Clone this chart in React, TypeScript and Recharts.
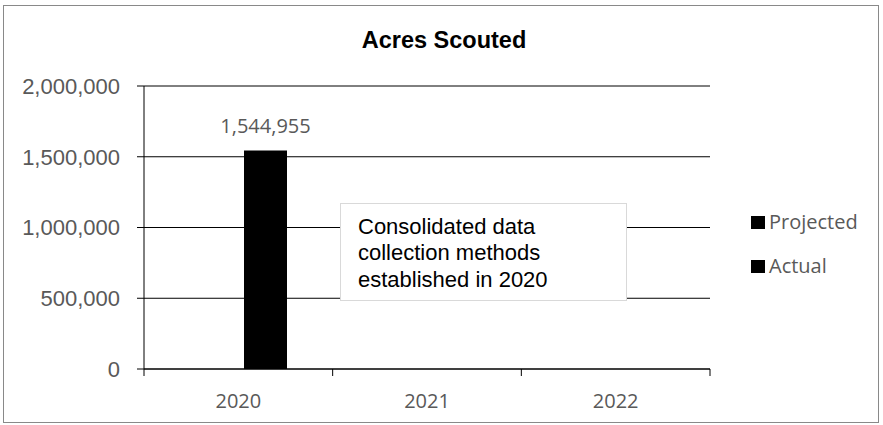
import React from 'react';
import { BarChart, Bar, XAxis, YAxis, CartesianGrid, Legend, LabelList } from 'recharts';

const years = ['2020', '2021', '2022'];
const projected: (number | null)[] = [null, null, null];
const actual: (number | null)[] = [1544955, null, null];
const yTicks = [0, 500000, 1000000, 1500000, 2000000];
const seriesNames = ['Projected', 'Actual'];
const chartTitle = 'Acres Scouted';
const noteLines = ['Consolidated data', 'collection methods', 'established in 2020'];

const data = years.map((y, i) => ({ year: y, projected: projected[i], actual: actual[i] }));

const fmt = (v: any) => (v === null || v === undefined ? '' : Number(v).toLocaleString('en-US'));

const calibriLike = '"Open Sans", "Noto Sans", sans-serif';
const arialLike = '"Liberation Sans", Arial, sans-serif';

const XTick = (props: any) => {
  const { x, y, payload, index, visibleTicksCount } = props;
  const half = payload && typeof payload.offset === 'number' ? payload.offset : 0;
  const last = visibleTicksCount ? index === visibleTicksCount - 1 : index === years.length - 1;
  return (
    <g>
      <line x1={x - half} x2={x - half} y1={y} y2={y + 7} stroke="#000" strokeWidth={1} />
      {last && <line x1={x + half} x2={x + half} y1={y} y2={y + 7} stroke="#000" strokeWidth={1} />}
      <text x={x} y={y + 39} textAnchor="middle" fill="#595959" fontSize={20} fontFamily={calibriLike}>
        {payload.value}
      </text>
    </g>
  );
};

const renderLegend = (props: any) => {
  const items = [...(props.payload || [])].sort(
    (a: any, b: any) => seriesNames.indexOf(a.value) - seriesNames.indexOf(b.value)
  );
  return (
    <div>
      {items.map((entry: any) => (
        <div key={entry.value} style={{ display: 'flex', alignItems: 'center', height: 44 }}>
          <span style={{ display: 'inline-block', width: 14, height: 13, background: entry.color, marginRight: 4 }} />
          <span style={{ fontFamily: calibriLike, fontSize: 20, color: '#595959', lineHeight: '44px' }}>{entry.value}</span>
        </div>
      ))}
    </div>
  );
};

export default function App() {
  return (
    <div style={{ position: 'absolute', left: 0, top: 0, width: 883, height: 425, background: '#fff' }}>
      <div
        style={{
          position: 'absolute',
          left: 3,
          top: 5,
          width: 876,
          height: 418,
          border: '1px solid #898989',
          boxSizing: 'border-box',
        }}
      />
      <div
        style={{
          position: 'absolute',
          left: 244,
          top: 29,
          width: 400,
          textAlign: 'center',
          fontFamily: arialLike,
          fontWeight: 'bold',
          fontSize: 23.5,
          lineHeight: 1,
          color: '#000',
        }}
      >
        {chartTitle}
      </div>
      <div style={{ position: 'absolute', left: 0, top: 0 }}>
        <BarChart
          width={883}
          height={425}
          data={data}
          margin={{ top: 86, right: 173, bottom: 6, left: 0 }}
          barGap={12}
        >
          <CartesianGrid vertical={false} stroke="#000" strokeWidth={1} />
          <XAxis
            dataKey="year"
            height={50}
            tickSize={0}
            tickMargin={0}
            tickLine={false}
            axisLine={{ stroke: '#000' }}
            tick={<XTick />}
            interval={0}
          />
          <YAxis
            width={144}
            domain={[0, 2000000]}
            ticks={yTicks}
            tickFormatter={fmt}
            tickSize={7}
            tickMargin={17}
            axisLine={{ stroke: '#000' }}
            tickLine={{ stroke: '#000' }}
            tick={{ fill: '#595959', fontSize: 22, fontFamily: arialLike }}
          />
          <YAxis
            yAxisId="right"
            orientation="right"
            width={0}
            tick={false}
            tickLine={false}
            axisLine={{ stroke: '#000' }}
          />
          <Legend
            layout="vertical"
            align="center"
            verticalAlign="middle"
            wrapperStyle={{ left: 751, top: 200, width: 'auto' }}
            content={renderLegend}
          />
          <Bar dataKey="projected" name={seriesNames[0]} fill="#000" barSize={43} isAnimationActive={false} />
          <Bar dataKey="actual" name={seriesNames[1]} fill="#000" barSize={43} isAnimationActive={false}>
            <LabelList
              dataKey="actual"
              position="top"
              offset={17}
              formatter={fmt}
              fill="#595959"
              fontSize={20}
              fontFamily={calibriLike}
            />
          </Bar>
        </BarChart>
      </div>
      <div
        style={{
          position: 'absolute',
          left: 340,
          top: 203,
          width: 287,
          height: 98,
          boxSizing: 'border-box',
          border: '1px solid #d9d9d9',
          background: '#fff',
          paddingLeft: 17,
          paddingTop: 10,
          fontFamily: arialLike,
          fontSize: 22,
          lineHeight: '26.3px',
          color: '#000',
        }}
      >
        {noteLines.map((l) => (
          <div key={l}>{l}</div>
        ))}
      </div>
    </div>
  );
}
